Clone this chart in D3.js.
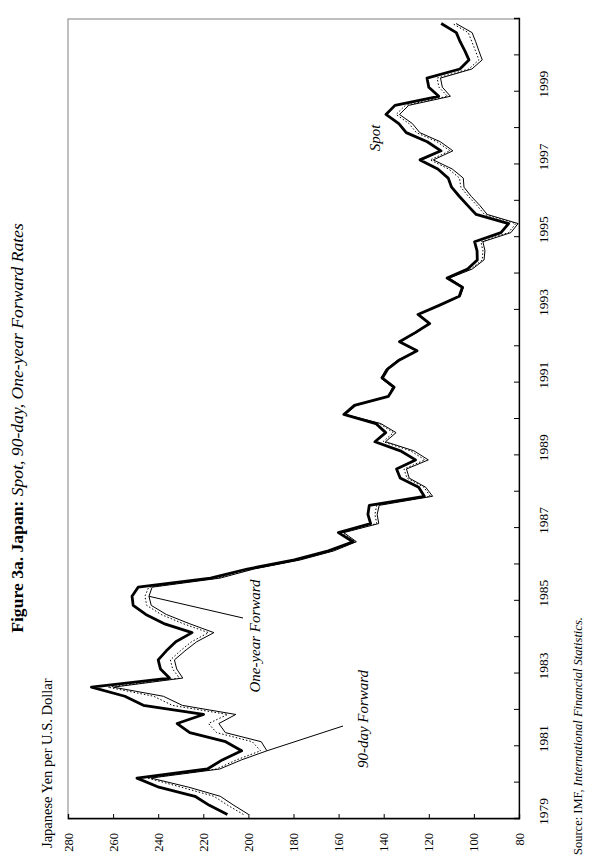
<html>
<head>
<script src="https://d3js.org/d3.v7.min.js"></script>
<style>
  body { margin: 0; background: #fff; }
  text { font-family: "Liberation Serif", "Times New Roman", serif; }
</style>
</head>
<body>
<svg id="chart" width="591" height="864"></svg>
<script>
  // end-of-quarter rates, yen per U.S. dollar, 1979Q1 .. 2000Q4
  var years = d3.range(1979, 2001)
  var yenTicks = [80, 100, 120, 140, 160, 180, 200, 220, 240, 260, 280]

  var spot = [
    209.3, 217.3, 223.7, 239.7, 249.4, 218.2, 211.6, 203.0,
    210.1, 226.0, 231.6, 219.9, 246.6, 254.8, 269.6, 235.0,
    239.0, 240.0, 236.4, 232.2, 225.0, 237.5, 245.5, 251.1,
    251.6, 248.9, 216.8, 200.5, 179.6, 164.5, 153.6, 160.1,
    145.8, 147.0, 146.4, 122.0, 124.5, 132.7, 134.3, 125.9,
    132.6, 143.9, 139.1, 143.5, 157.7, 153.0, 137.9, 135.4,
    140.6, 138.2, 133.0, 125.2, 133.0, 126.0, 119.6, 124.8,
    115.4, 106.5, 105.1, 111.9, 102.8, 98.5, 98.6, 99.7,
    88.0, 84.6, 99.0, 102.8, 106.5, 109.9, 111.4, 116.0,
    123.9, 114.6, 120.7, 130.0, 133.3, 139.0, 135.0, 115.6,
    120.0, 120.8, 106.2, 102.2, 104.0, 106.1, 107.8, 114.5
  ]

  var fwd90 = [
    202.2, 209.1, 215.3, 229.8, 244.7, 214.1, 205.3, 194.6,
    198.3, 214.1, 217.7, 209.2, 233.7, 242.0, 262.3, 230.6,
    233.6, 234.6, 230.2, 225.2, 217.7, 229.1, 238.7, 245.1,
    245.9, 244.2, 213.6, 198.2, 177.6, 162.7, 152.5, 158.3,
    143.1, 143.9, 143.1, 119.3, 122.2, 129.7, 131.0, 121.7,
    128.1, 140.3, 135.7, 141.9, 157.1, 152.4, 137.9, 135.9,
    141.1, 138.7, 133.5, 125.2, 133.0, 125.5, 119.6, 124.8,
    115.4, 106.1, 104.7, 111.1, 101.3, 96.3, 96.0, 96.9,
    84.7, 81.4, 95.3, 98.7, 102.5, 105.8, 106.4, 111.2,
    119.4, 110.6, 116.4, 125.5, 128.8, 134.5, 130.4, 111.7,
    115.5, 116.3, 102.2, 97.8, 99.3, 100.9, 102.5, 109.5
  ]

  var fwd1y = [
    199.9, 206.4, 212.5, 226.5, 243.2, 212.7, 203.1, 191.8,
    194.3, 210.2, 213.1, 205.6, 229.3, 237.7, 259.9, 229.1,
    231.8, 232.8, 228.1, 222.9, 215.3, 226.3, 236.4, 243.1,
    244.1, 242.7, 212.5, 197.5, 176.9, 162.0, 152.1, 157.7,
    142.2, 142.9, 142.0, 118.3, 121.4, 128.7, 129.9, 120.2,
    126.6, 139.2, 134.5, 141.3, 156.9, 152.2, 137.9, 136.1,
    141.3, 138.9, 133.7, 125.2, 133.0, 125.4, 119.6, 124.8,
    115.4, 106.0, 104.6, 110.8, 100.7, 95.5, 95.1, 96.0,
    83.6, 80.4, 94.1, 97.4, 101.2, 104.4, 104.7, 109.6,
    118.0, 109.3, 114.9, 124.0, 127.3, 133.0, 128.9, 110.4,
    114.0, 114.8, 100.9, 96.3, 97.8, 99.2, 100.8, 107.9
  ]

  // quarter midpoints as decimal years
  var quarters = years.flatMap(function (y) {
    return [1, 2, 3, 4].map(function (q) { return y + (q - 0.5) / 4 })
  })

  // t/v = point the pointer line touches; lx,ly = label; ex,ey = far end of pointer (upright px)
  var notes = [
    { t: 1985.125, v: 244.1, label: "One-year Forward", lx: 228, ly: 260, ex: 246, ey: 243 },
    { t: 1980.875, v: 191.8, label: "90-day Forward", lx: 145, ly: 368, ex: 138, ey: 343 }
  ]

  var svg = d3.select("#chart")
  // the whole figure is printed sideways: draw it upright, then turn it
  var g = svg.append("g").attr("transform", "translate(0,864) rotate(-90)")

  var x = d3.scaleLinear().domain([1979, 2001]).range([45, 845])
  var y = d3.scaleLinear().domain([80, 280]).range([519, 68])

  // plot frame
  g.append("rect")
    .attr("x", x(1979)).attr("y", y(280))
    .attr("width", x(2001) - x(1979)).attr("height", y(80) - y(280))
    .attr("fill", "none").attr("stroke", "#808080").attr("stroke-width", 1)

  var yAxis = g.append("g")
    .attr("transform", "translate(" + x(1979) + ",0)")
    .call(d3.axisLeft(y).tickValues(yenTicks).tickSize(-5).tickPadding(14))
  yAxis.select(".domain").attr("stroke", "#000").attr("stroke-width", 1.3)
  yAxis.selectAll("text").attr("font-size", 12.5).attr("fill", "#000")
    .attr("font-family", "Liberation Serif, serif")

  var xAxis = g.append("g")
    .attr("transform", "translate(0," + y(80) + ")")
    .call(d3.axisBottom(x).tickValues(d3.range(1979, 2002)).tickSize(-5)
      .tickFormat(function (d) { return (d % 2 == 1 && d < 2001) ? d : "" }))
  xAxis.select(".domain").attr("stroke", "#000").attr("stroke-width", 1.3)
  xAxis.selectAll("text").attr("font-size", 13.5).attr("fill", "#000")
    .attr("font-family", "Liberation Serif, serif")
    .attr("x", 7).attr("y", 29).attr("dy", 0)

  var line = d3.line()
    .x(function (d, i) { return x(quarters[i]) })
    .y(function (d) { return y(d) })

  g.append("path").datum(fwd1y).attr("d", line)
    .attr("fill", "none").attr("stroke", "#000").attr("stroke-width", 1)
  g.append("path").datum(fwd90).attr("d", line)
    .attr("fill", "none").attr("stroke", "#000").attr("stroke-width", 1)
    .attr("stroke-dasharray", "1.5,2")
  g.append("path").datum(spot).attr("d", line)
    .attr("fill", "none").attr("stroke", "#000").attr("stroke-width", 2.8)
    .attr("stroke-linejoin", "round")

  // annotations
  notes.forEach(function (n) {
    g.append("line")
      .attr("x1", n.ex).attr("y1", n.ey)
      .attr("x2", x(n.t)).attr("y2", y(n.v))
      .attr("stroke", "#000").attr("stroke-width", 1)
    g.append("text").attr("x", n.lx).attr("y", n.ly)
      .attr("text-anchor", "middle").attr("font-size", 15)
      .attr("font-style", "italic").text(n.label)
  })
  g.append("text").attr("x", 726).attr("y", 380)
    .attr("text-anchor", "middle").attr("font-size", 15)
    .attr("font-style", "italic").text("Spot")

  // titles
  var title = g.append("text").attr("x", 436).attr("y", 23)
    .attr("text-anchor", "middle").attr("font-size", 17.6)
  title.append("tspan").attr("font-weight", "bold").text("Figure 3a. Japan: ")
  title.append("tspan").attr("font-style", "italic").text("Spot, 90-day, One-year Forward Rates")

  g.append("text").attr("x", 16).attr("y", 52)
    .attr("font-size", 14.5).text("Japanese Yen per U.S. Dollar")

  var src = g.append("text").attr("x", 9).attr("y", 582).attr("font-size", 12.5)
  src.append("tspan").text("Source: IMF, ")
  src.append("tspan").attr("font-style", "italic").text("International Financial Statistics.")
</script>
</body>
</html>
